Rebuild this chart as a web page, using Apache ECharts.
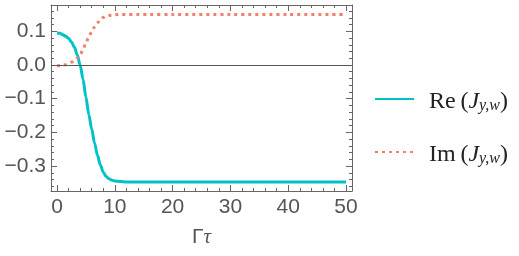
<!DOCTYPE html>
<html><head><meta charset="utf-8">
<script src="https://cdn.jsdelivr.net/npm/echarts@6/dist/echarts.min.js"></script>
<style>html,body{margin:0;padding:0;background:#fff}#c{width:519px;height:256px}</style>
</head><body><div id="c"></div>
<script>
var tValues = [0, 0.5, 1, 1.5, 2, 2.5, 3, 3.5, 4, 4.5, 5, 5.5, 6, 6.5, 7, 7.5, 8, 8.5, 9, 9.5, 10, 11, 12, 14, 16, 20, 30, 40, 50];
var reValues = [0.095, 0.094, 0.090, 0.085, 0.079, 0.068, 0.053, 0.030, 0.000, -0.042, -0.095, -0.147, -0.190, -0.232, -0.268, -0.297, -0.318, -0.331, -0.338, -0.342, -0.344, -0.346, -0.347, -0.347, -0.347, -0.347, -0.347, -0.347, -0.347];
var imValues = [-0.002, -0.002, -0.001, 0.001, 0.004, 0.008, 0.013, 0.020, 0.030, 0.046, 0.065, 0.083, 0.099, 0.113, 0.125, 0.135, 0.141, 0.145, 0.147, 0.148, 0.149, 0.150, 0.150, 0.150, 0.150, 0.150, 0.150, 0.150, 0.150];
var seriesNames = ['Re', 'Im'];

function pairs(ys) { return tValues.map(function (t, i) { return [t, ys[i]]; }); }

var X_MIN = -1.04, X_MAX = 51.04, Y_MIN = -0.374, Y_MAX = 0.178;
var frameColor = '#666';
var labelColor = '#555';

function xAx(pos, show) {
  return {
    type: 'value', position: pos, min: X_MIN, max: X_MAX,
    axisLine: { show: true, onZero: false, lineStyle: { color: frameColor, width: 1 } },
    axisTick: { show: true, inside: true, length: 6, lineStyle: { color: frameColor } },
    minorTick: { show: true, splitNumber: 5, length: 3, lineStyle: { color: frameColor } },
    splitLine: { show: false },
    axisLabel: { show: show, showMinLabel: false, showMaxLabel: false, color: labelColor, fontSize: 21, fontFamily: 'Liberation Sans, Arial, sans-serif', margin: 6 },
    name: show ? '{a|Γ}{b|τ}' : '', nameLocation: 'middle', nameGap: 36,
    nameTextStyle: { rich: { a: { fontSize: 21, color: labelColor, fontFamily: 'Liberation Sans, sans-serif' }, b: { fontSize: 21, color: labelColor, fontStyle: 'italic', fontFamily: 'Liberation Serif, serif' } } }
  };
}
function yAx(pos, show) {
  return {
    type: 'value', position: pos, min: Y_MIN, max: Y_MAX,
    axisLine: { show: true, onZero: false, lineStyle: { color: frameColor, width: 1 } },
    axisTick: { show: true, inside: true, length: 6, lineStyle: { color: frameColor } },
    minorTick: { show: true, splitNumber: 5, length: 3, lineStyle: { color: frameColor } },
    splitLine: { show: false },
    axisLabel: { show: show, showMinLabel: false, showMaxLabel: false, color: labelColor, fontSize: 21, fontFamily: 'Liberation Sans, Arial, sans-serif', margin: 5,
      formatter: function (v) { var s = Math.abs(v).toFixed(1); return (v < -1e-9 ? '\u2212' : '') + s; } }
  };
}

var serif = 'Liberation Serif, DejaVu Serif, serif';
var legendRich = {
  g: { width: 10, lineHeight: 30, verticalAlign: 'bottom' },
  t: { fontFamily: serif, fontSize: 24, color: '#222', lineHeight: 30, verticalAlign: 'bottom' },
  i: { fontFamily: serif, fontSize: 24, color: '#222', fontStyle: 'italic', lineHeight: 30, verticalAlign: 'bottom' },
  s: { fontFamily: serif, fontSize: 16, color: '#222', fontStyle: 'italic', lineHeight: 14, verticalAlign: 'bottom' }
};
function legendFmt(name) { return '{g|}{t|' + name + '\u2009(}{i|J}{s|y,w}{t|)}'; }

var chart = echarts.init(document.getElementById('c'), null, { renderer: 'canvas' });
chart.setOption({
  animation: false,
  grid: { left: 51, right: 167, top: 5, bottom: 65 },
  xAxis: [xAx('bottom', true), xAx('top', false)],
  yAxis: [yAx('left', true), yAx('right', false)],
  legend: {
    data: seriesNames, orient: 'vertical', left: 374, top: 90, padding: 0, itemWidth: 39, itemHeight: 14, itemGap: 29,
    formatter: legendFmt, textStyle: { rich: legendRich }, itemStyle: { opacity: 0 }
  },
  series: [
    { name: seriesNames[0], type: 'line', data: pairs(reValues), showSymbol: false, symbol: 'none', smooth: 0.3, smoothMonotone: 'x',
      lineStyle: { color: '#00c1c9', width: 3 }, itemStyle: { color: '#00c1c9' },
      markLine: { silent: true, symbol: 'none', label: { show: false }, lineStyle: { color: '#555', width: 1, type: 'solid' }, data: [{ yAxis: 0 }] } },
    { name: seriesNames[1], type: 'line', data: pairs(imValues), showSymbol: false, symbol: 'none', smooth: 0.3, smoothMonotone: 'x',
      lineStyle: { color: '#f27e6c', width: 3, type: [3, 4] }, itemStyle: { color: '#f27e6c' } }
  ]
});
</script></body></html>
